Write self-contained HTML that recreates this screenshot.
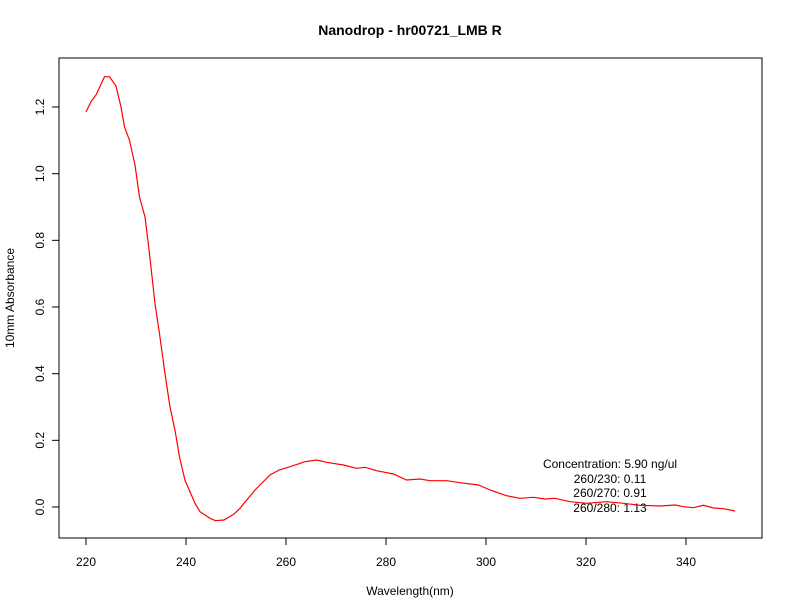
<!DOCTYPE html>
<html><head><meta charset="utf-8"><style>
body{margin:0;background:#fff;}
svg{display:block;font-family:"Liberation Sans",sans-serif;}
</style></head><body>
<svg id="chart" width="792" height="612" viewBox="0 0 792 612">
<rect width="792" height="612" fill="#fff"/>
<text x="410" y="35" text-anchor="middle" font-size="14" font-weight="bold">Nanodrop - hr00721_LMB R</text>
<rect x="59" y="58" width="703" height="480" fill="none" stroke="#000" stroke-width="1"/>
<g id="xaxis"></g>
<g id="yaxis"></g>
<text x="410" y="595" text-anchor="middle" font-size="12">Wavelength(nm)</text>
<text x="0" y="0" transform="translate(14,298) rotate(-90)" text-anchor="middle" font-size="12">10mm Absorbance</text>
<g font-size="12" text-anchor="middle">
<text x="610" y="468">Concentration: 5.90 ng/ul</text>
<text x="610" y="483">260/230: 0.11</text>
<text x="610" y="497">260/270: 0.91</text>
<text x="610" y="512">260/280: 1.13</text>
</g>
</svg>
<script>
const wavelengths=[220,221,222,223.7,224.7,226,227,227.7,228.7,229.8,230.7,231.8,232.7,233.8,234.7,235.8,236.8,237.8,238.7,239.8,240.8,241.8,242.8,243.8,244.8,245.9,247.6,249.6,250.8,251.6,253.8,256.8,258.6,260.8,263.8,266.1,268.1,271.5,274.1,275.8,278.1,281.5,284.1,286.8,288.8,292.1,294.8,298.5,300.8,304.1,306.8,309.5,311.8,313.8,316.8,320.1,324.1,327.5,330.8,334.8,337.8,339.5,341.5,343.5,345.5,347.5,349.8];
const absorbance=[1.185,1.216,1.236,1.291,1.291,1.263,1.20,1.14,1.10,1.026,0.93,0.87,0.76,0.61,0.52,0.40,0.30,0.23,0.15,0.08,0.046,0.011,-0.014,-0.024,-0.034,-0.041,-0.039,-0.021,-0.004,0.011,0.051,0.096,0.111,0.121,0.136,0.141,0.134,0.126,0.116,0.119,0.109,0.099,0.081,0.084,0.079,0.079,0.073,0.066,0.051,0.034,0.026,0.029,0.024,0.026,0.016,0.011,0.016,0.011,0.005,0.003,0.006,0.001,-0.002,0.005,-0.003,-0.005,-0.012];
const xTicks=[220,240,260,280,300,320,340];
const yTicks=[0.0,0.2,0.4,0.6,0.8,1.0,1.2];
const yTickLabels=["0.0","0.2","0.4","0.6","0.8","1.0","1.2"];
const NS="http://www.w3.org/2000/svg";
function xs(w){return 86+(w-220)*5;}
function ys(v){return 507-v*333.33;}
const svg=document.getElementById('chart');
const xa=document.getElementById('xaxis'),ya=document.getElementById('yaxis');
function mk(t,a,p){const e=document.createElementNS(NS,t);for(const k in a)e.setAttribute(k,a[k]);p.appendChild(e);return e;}
const xl=mk('line',{x1:xs(xTicks[0]),x2:xs(xTicks[xTicks.length-1]),y1:538,y2:538,stroke:'#000'},xa);


xTicks.forEach(t=>{
 const l=mk('line',{x1:xs(t),x2:xs(t),y1:538,y2:545,stroke:'#000'},xa);
 
 
 const tx=mk('text',{x:xs(t),y:566,'text-anchor':'middle','font-size':12},xa);
 tx.textContent=t;
 
 
});
const yl=mk('line',{x1:59,x2:59,y1:ys(yTicks[0]),y2:ys(yTicks[yTicks.length-1]),stroke:'#000'},ya);


yTicks.forEach((t,i)=>{
 const l=mk('line',{x1:52,x2:59,y1:ys(t),y2:ys(t),stroke:'#000'},ya);
 
 
 const tx=mk('text',{x:0,y:0,transform:`translate(44,${ys(t)}) rotate(-90)`,'text-anchor':'middle','font-size':12},ya);
 tx.textContent=yTickLabels[i];
 
 
});
const pts=wavelengths.map((w,i)=>xs(w).toFixed(1)+','+ys(absorbance[i]).toFixed(1)).join(' ');
const pl=mk('polyline',{points:pts,fill:'none',stroke:'#ff0000','stroke-width':1.2},svg);


</script>
</body></html>
